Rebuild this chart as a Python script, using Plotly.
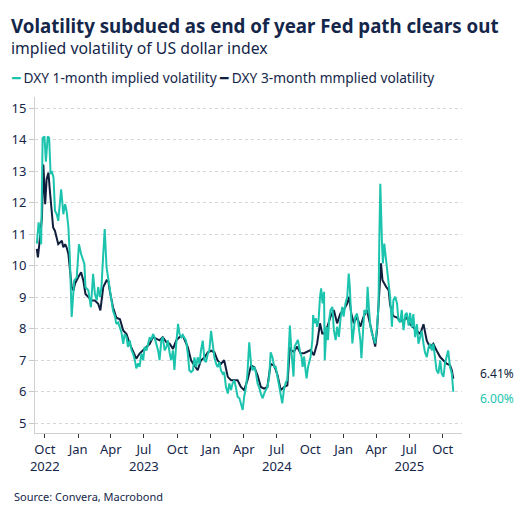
import plotly.graph_objects as go

# DXY 1-month implied volatility
m1_dates = [
    "2022-09-09", "2022-09-14", "2022-09-18", "2022-09-21", "2022-09-25", "2022-09-30",
    "2022-10-04", "2022-10-09", "2022-10-13", "2022-10-17", "2022-10-20", "2022-10-25",
    "2022-10-29", "2022-11-03", "2022-11-07", "2022-11-15", "2022-11-18", "2022-11-21",
    "2022-11-26", "2022-11-30", "2022-12-05", "2022-12-09", "2022-12-14", "2022-12-21",
    "2022-12-28", "2023-01-03", "2023-01-09", "2023-01-12", "2023-01-18", "2023-01-21",
    "2023-01-29", "2023-02-02", "2023-02-05", "2023-02-11", "2023-02-16", "2023-02-21",
    "2023-02-25", "2023-03-02", "2023-03-06", "2023-03-11", "2023-03-15", "2023-03-20",
    "2023-03-25", "2023-03-29", "2023-04-03", "2023-04-07", "2023-04-12", "2023-04-16",
    "2023-04-21", "2023-04-26", "2023-04-30", "2023-05-05", "2023-05-09", "2023-05-14",
    "2023-05-18", "2023-05-23", "2023-05-28", "2023-06-01", "2023-06-06", "2023-06-10",
    "2023-06-15", "2023-06-19", "2023-06-24", "2023-06-29", "2023-07-03", "2023-07-08",
    "2023-07-12", "2023-07-17", "2023-07-21", "2023-07-26", "2023-07-30", "2023-08-04",
    "2023-08-09", "2023-08-13", "2023-08-18", "2023-08-22", "2023-08-27", "2023-09-01",
    "2023-09-05", "2023-09-10", "2023-09-14", "2023-09-19", "2023-09-23", "2023-09-28",
    "2023-10-03", "2023-10-07", "2023-10-12", "2023-10-16", "2023-10-21", "2023-10-25",
    "2023-10-30", "2023-11-03", "2023-11-08", "2023-11-13", "2023-11-17", "2023-11-22",
    "2023-11-26", "2023-12-01", "2023-12-05", "2023-12-10", "2023-12-15", "2023-12-19",
    "2023-12-24", "2023-12-28", "2024-01-02", "2024-01-07", "2024-01-11", "2024-01-16",
    "2024-01-20", "2024-01-25", "2024-01-29", "2024-02-03", "2024-02-07", "2024-02-12",
    "2024-02-17", "2024-02-21", "2024-02-26", "2024-03-01", "2024-03-06", "2024-03-10",
    "2024-03-15", "2024-03-20", "2024-03-24", "2024-03-29", "2024-04-02", "2024-04-07",
    "2024-04-11", "2024-04-16", "2024-04-21", "2024-04-25", "2024-04-30", "2024-05-04",
    "2024-05-09", "2024-05-13", "2024-05-18", "2024-05-23", "2024-05-27", "2024-06-01",
    "2024-06-05", "2024-06-10", "2024-06-14", "2024-06-19", "2024-06-24", "2024-06-28",
    "2024-07-03", "2024-07-07", "2024-07-12", "2024-07-16", "2024-07-21", "2024-07-26",
    "2024-07-30", "2024-08-04", "2024-08-06", "2024-08-10", "2024-08-16", "2024-08-19",
    "2024-08-25", "2024-08-28", "2024-09-03", "2024-09-07", "2024-09-10", "2024-09-14",
    "2024-09-18", "2024-09-21", "2024-09-25", "2024-09-29", "2024-10-02", "2024-10-07",
    "2024-10-09", "2024-10-13", "2024-10-17", "2024-10-20", "2024-10-24", "2024-10-28",
    "2024-10-31", "2024-11-04", "2024-11-08", "2024-11-10", "2024-11-15", "2024-11-19",
    "2024-11-22", "2024-11-26", "2024-12-01", "2024-12-05", "2024-12-10", "2024-12-14",
    "2024-12-19", "2024-12-23", "2024-12-28", "2025-01-01", "2025-01-06", "2025-01-11",
    "2025-01-15", "2025-01-18", "2025-01-22", "2025-01-25", "2025-01-29", "2025-02-02",
    "2025-02-07", "2025-02-12", "2025-02-16", "2025-02-19", "2025-02-24", "2025-02-27",
    "2025-03-05", "2025-03-08", "2025-03-12", "2025-03-16", "2025-03-20", "2025-03-25",
    "2025-03-29", "2025-04-03", "2025-04-07", "2025-04-09", "2025-04-12", "2025-04-17",
    "2025-04-19", "2025-04-23", "2025-04-27", "2025-04-30", "2025-05-05", "2025-05-09",
    "2025-05-14", "2025-05-18", "2025-05-23", "2025-05-28", "2025-06-01", "2025-06-06",
    "2025-06-10", "2025-06-15", "2025-06-20", "2025-06-24", "2025-06-29", "2025-07-03",
    "2025-07-08", "2025-07-12", "2025-07-17", "2025-07-22", "2025-07-26", "2025-07-31",
    "2025-08-04", "2025-08-09", "2025-08-13", "2025-08-18", "2025-08-23", "2025-08-27",
    "2025-09-01", "2025-09-05", "2025-09-10", "2025-09-14", "2025-09-19", "2025-09-24",
    "2025-09-28", "2025-10-03", "2025-10-07", "2025-10-12", "2025-10-16", "2025-10-21",
    "2025-10-26", "2025-10-30",
]
m1_vals = [
    10.70, 11.37, 11.00, 10.68, 14.05, 14.10,
    13.30, 14.10, 14.05, 12.90, 13.00, 12.80,
    11.74, 11.63, 11.42, 12.42, 12.05, 11.63,
    11.95, 11.74, 11.21, 10.26, 8.37, 9.53,
    9.63, 10.68, 10.37, 10.26, 10.05, 9.32,
    9.21, 8.90, 8.68, 9.74, 9.10, 8.90,
    9.32, 9.00, 9.32, 10.37, 11.16, 9.95,
    9.60, 9.20, 8.90, 8.56, 8.40, 8.15,
    8.20, 8.04, 7.89, 7.52, 7.83, 7.73,
    7.42, 7.63, 7.31, 7.21, 7.00, 6.74,
    6.90, 6.79, 7.21, 7.00, 7.42, 7.31,
    7.52, 7.73, 7.63, 7.83, 7.73, 7.52,
    7.31, 7.00, 7.63, 7.73, 7.31, 7.42,
    7.63, 7.21, 7.00, 7.31, 6.69, 7.52,
    8.15, 7.83, 7.73, 7.80, 7.72, 7.62,
    7.20, 6.68, 6.62, 6.68, 7.09, 6.78,
    7.09, 6.88, 7.30, 7.62, 6.99, 6.94,
    7.20, 7.30, 7.93, 7.51, 7.09, 6.88,
    6.78, 6.94, 6.68, 6.57, 6.62, 6.15,
    5.94, 6.26, 6.05, 6.26, 6.36, 6.15,
    5.84, 5.79, 5.63, 5.42, 5.84, 6.15,
    6.57, 7.57, 6.88, 6.68, 6.78, 6.62,
    6.26, 6.15, 5.94, 5.79, 5.94, 6.05,
    6.15, 6.47, 7.25, 7.09, 6.78, 6.78,
    6.47, 6.15, 5.89, 5.63, 6.10, 6.30,
    6.37, 7.43, 8.10, 7.32, 6.48, 7.43,
    7.59, 7.64, 7.27, 7.11, 6.79, 7.11,
    6.69, 6.42, 6.79, 7.00, 7.11, 7.64,
    8.43, 8.17, 8.33, 8.06, 8.27, 9.01,
    9.28, 8.80, 9.17, 7.00, 8.06, 7.64,
    8.27, 8.59, 8.69, 7.96, 7.64, 8.06,
    7.74, 8.27, 8.69, 8.38, 8.80, 9.01,
    9.75, 9.33, 8.27, 7.53, 7.96, 8.38,
    8.48, 8.06, 7.64, 7.06, 8.06, 8.59,
    8.48, 9.33, 8.59, 8.06, 7.85, 7.64,
    7.53, 8.06, 8.69, 10.60, 12.60, 10.60,
    10.07, 10.70, 10.28, 9.86, 9.54, 9.00,
    8.06, 8.90, 9.01, 8.80, 8.27, 8.20,
    8.60, 7.95, 8.45, 8.50, 8.10, 8.50,
    8.04, 8.46, 7.73, 8.14, 7.52, 7.73,
    7.93, 7.52, 7.25, 7.10, 7.41, 7.52,
    7.31, 7.52, 7.10, 6.68, 6.58, 6.99,
    6.58, 6.47, 6.89, 7.10, 7.31, 6.78,
    6.58, 6.00,
]

# DXY 3-month implied volatility
m3_dates = [
    "2022-09-09", "2022-09-12", "2022-09-15", "2022-09-19", "2022-09-23", "2022-09-27",
    "2022-10-02", "2022-10-06", "2022-10-11", "2022-10-15", "2022-10-20", "2022-10-24",
    "2022-10-29", "2022-11-03", "2022-11-07", "2022-11-17", "2022-11-21", "2022-11-26",
    "2022-11-30", "2022-12-05", "2022-12-09", "2022-12-14", "2022-12-19", "2022-12-23",
    "2023-01-01", "2023-01-09", "2023-01-15", "2023-01-21", "2023-01-29", "2023-02-07",
    "2023-02-16", "2023-02-25", "2023-03-03", "2023-03-11", "2023-03-20", "2023-03-25",
    "2023-03-29", "2023-04-07", "2023-04-16", "2023-04-26", "2023-05-05", "2023-05-14",
    "2023-05-23", "2023-06-01", "2023-06-10", "2023-06-19", "2023-06-29", "2023-07-08",
    "2023-07-17", "2023-07-26", "2023-08-04", "2023-08-13", "2023-08-22", "2023-09-01",
    "2023-09-10", "2023-09-19", "2023-09-28", "2023-10-07", "2023-10-16", "2023-10-30",
    "2023-11-08", "2023-11-17", "2023-11-26", "2023-12-05", "2023-12-15", "2023-12-24",
    "2024-01-02", "2024-01-11", "2024-01-20", "2024-01-29", "2024-02-07", "2024-02-17",
    "2024-02-26", "2024-03-06", "2024-03-15", "2024-03-24", "2024-04-02", "2024-04-11",
    "2024-04-21", "2024-04-30", "2024-05-09", "2024-05-18", "2024-05-27", "2024-06-05",
    "2024-06-14", "2024-06-24", "2024-07-03", "2024-07-12", "2024-07-21", "2024-07-30",
    "2024-08-06", "2024-08-08", "2024-08-17", "2024-08-26", "2024-09-04", "2024-09-14",
    "2024-09-23", "2024-10-02", "2024-10-11", "2024-10-20", "2024-10-28", "2024-11-03",
    "2024-11-08", "2024-11-17", "2024-11-26", "2024-12-05", "2024-12-14", "2024-12-23",
    "2025-01-01", "2025-01-11", "2025-01-16", "2025-01-22", "2025-01-29", "2025-02-07",
    "2025-02-16", "2025-02-25", "2025-03-06", "2025-03-16", "2025-03-25", "2025-03-29",
    "2025-04-03", "2025-04-10", "2025-04-14", "2025-04-18", "2025-04-23", "2025-04-28",
    "2025-05-05", "2025-05-09", "2025-05-18", "2025-05-28", "2025-06-06", "2025-06-15",
    "2025-06-24", "2025-07-03", "2025-07-12", "2025-07-22", "2025-07-31", "2025-08-09",
    "2025-08-18", "2025-08-27", "2025-09-05", "2025-09-14", "2025-09-24", "2025-10-03",
    "2025-10-12", "2025-10-21", "2025-10-26", "2025-10-30",
]
m3_vals = [
    10.53, 10.26, 10.58, 10.95, 11.50, 13.21,
    11.95, 12.74, 12.95, 12.37, 11.84, 11.21,
    11.10, 10.89, 10.68, 10.79, 10.58, 10.68,
    10.58, 10.37, 9.95, 9.32, 9.21, 9.42,
    9.63, 9.79, 9.53, 9.10, 9.00, 8.89,
    8.89, 8.79, 8.58, 9.32, 9.53, 9.50,
    9.19, 8.67, 8.35, 8.30, 7.94, 7.83,
    7.52, 7.31, 7.05, 7.21, 7.31, 7.42,
    7.52, 7.73, 7.68, 7.63, 7.73, 7.57,
    7.52, 7.36, 7.63, 7.73, 7.78, 7.41,
    6.99, 6.83, 6.68, 6.99, 7.09, 7.25,
    7.30, 7.25, 6.99, 6.88, 7.00, 6.47,
    6.36, 6.36, 6.36, 6.15, 6.05, 6.36,
    6.83, 6.78, 6.52, 6.15, 6.10, 6.15,
    6.88, 6.83, 6.52, 6.05, 6.15, 6.20,
    7.41, 7.32, 7.27, 7.43, 7.22, 7.22,
    7.27, 7.32, 7.16, 7.53, 8.17, 7.85,
    7.85, 8.06, 8.38, 8.59, 8.17, 8.48,
    8.59, 8.80, 9.01, 8.48, 8.17, 8.38,
    8.06, 8.38, 8.59, 8.06, 7.53, 7.43,
    7.96, 9.33, 10.07, 9.54, 9.43, 9.33,
    9.22, 8.75, 8.40, 8.35, 8.25, 8.25,
    8.35, 8.14, 8.04, 7.93, 7.83, 8.14,
    7.62, 7.41, 7.52, 7.31, 7.10, 6.99,
    6.89, 6.84, 6.68, 6.41,
]

tick_dates = [
    "2022-10-01", "2023-01-01", "2023-04-01", "2023-07-01", "2023-10-01",
    "2024-01-01", "2024-04-01", "2024-07-01", "2024-10-01",
    "2025-01-01", "2025-04-01", "2025-07-01", "2025-10-01",
]
tick_labels = [
    "Oct<br>2022", "Jan", "Apr", "Jul<br>2023", "Oct",
    "Jan", "Apr", "Jul<br>2024", "Oct",
    "Jan", "Apr", "Jul<br>2025", "Oct",
]

name_1m = "DXY 1-month implied volatility"
name_3m = "DXY 3-month mmplied volatility"

teal = "#1cc4ae"
navy = "#0f1f3d"
text_col = "#14264a"
font = "Noto Sans"

fig = go.Figure()
fig.add_trace(go.Scatter(x=m3_dates, y=m3_vals, name=name_3m, mode="lines",
                         line=dict(color=navy, width=2)))
fig.add_trace(go.Scatter(x=m1_dates, y=m1_vals, name=name_1m, mode="lines",
                         line=dict(color=teal, width=2)))

fig.update_layout(
    width=523, height=515,
    margin=dict(l=33, r=61, t=97, b=82),
    plot_bgcolor="white", paper_bgcolor="white",
    showlegend=False,
    font=dict(family=font, color=text_col, size=13),
)

fig.update_xaxes(
    range=["2022-09-04", "2025-11-23"],
    tickvals=tick_dates, ticktext=tick_labels,
    showgrid=False, showline=True, linecolor="#d0d0d0", linewidth=1,
    ticks="outside", ticklen=4, tickcolor="#333333",
    tickfont=dict(size=13, color=text_col),
)
fig.update_yaxes(
    range=[4.69, 15.35], tickvals=list(range(5, 16)),
    showgrid=True, gridcolor="#d6d6d6", griddash="dot", gridwidth=1,
    zeroline=False, showline=True, linecolor="#d0d0d0", linewidth=1,
    ticks="outside", ticklen=5, tickcolor="#c8c8c8",
    tickfont=dict(size=13, color=text_col),
)

# title, subtitle, legend and source as text
fig.add_annotation(text="<b>Volatility subdued as end of year Fed path clears out</b>",
                   xref="paper", yref="paper", x=-0.062, y=1.214, xanchor="left", yanchor="middle",
                   showarrow=False, font=dict(size=18.7, color=text_col))
fig.add_annotation(text="implied volatility of US dollar index",
                   xref="paper", yref="paper", x=-0.062, y=1.146, xanchor="left", yanchor="middle",
                   showarrow=False, font=dict(size=15.8, color=text_col))
fig.add_annotation(
    text=(f"<span style='color:{teal}'>━</span> {name_1m} "
          f"<span style='color:{navy}'>━</span> {name_3m}"),
    xref="paper", yref="paper", x=-0.062, y=1.057, xanchor="left", yanchor="middle",
    showarrow=False, font=dict(size=13.7, color=text_col))
fig.add_annotation(text="Source: Convera, Macrobond",
                   xref="paper", yref="paper", x=-0.055, y=-0.19, xanchor="left", yanchor="middle",
                   showarrow=False, font=dict(size=11, color=text_col))

# end-of-series value labels
fig.add_annotation(text=f"{m3_vals[-1]:.2f}%", xref="paper", yref="y", x=1.037, y=6.59,
                   xanchor="left", yanchor="middle", showarrow=False,
                   font=dict(size=12, color=navy))
fig.add_annotation(text=f"{m1_vals[-1]:.2f}%", xref="paper", yref="y", x=1.037, y=5.79,
                   xanchor="left", yanchor="middle", showarrow=False,
                   font=dict(size=12, color=teal))

fig.write_html("out.html", config={"displayModeBar": False},
               post_script="document.body.style.margin='0';")
